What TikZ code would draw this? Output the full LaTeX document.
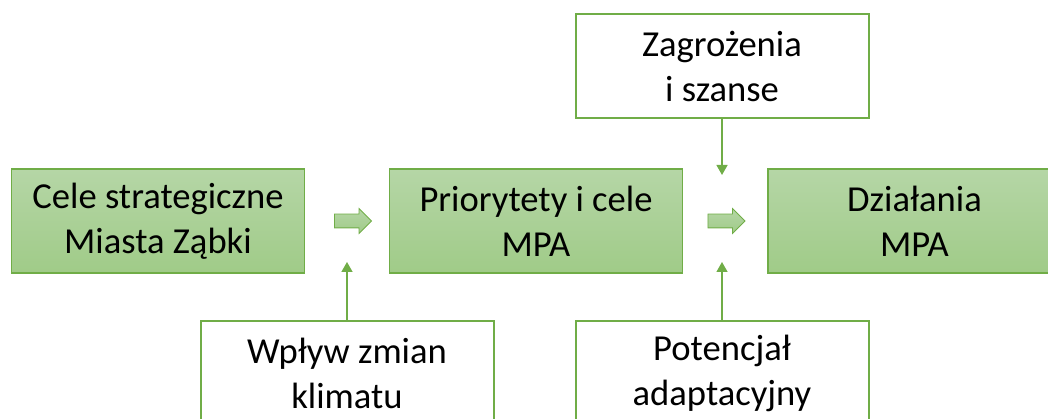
\documentclass[tikz,border=0pt]{standalone}
\usepackage{fontspec}
\setmainfont{Carlito}
\usetikzlibrary{arrows.meta,shapes.arrows}
\definecolor{mpagreen}{HTML}{70AD47}
\definecolor{mpatop}{HTML}{B5D6A6}
\definecolor{mpabot}{HTML}{A0CB88}
\tikzset{
 box/.style={draw=mpagreen,minimum width=293pt,minimum height=104pt,align=center,
  inner sep=0pt,font=\fontsize{36.6}{45}\selectfont},
 greenbox/.style={box,line width=1.2pt,top color=mpatop,bottom color=mpabot},
 whitebox/.style={box,line width=2pt,fill=white},
 feed/.style={draw=mpagreen,line width=1.4pt,-{Triangle[width=11pt,length=10pt]}},
 flow/.style={single arrow,draw=mpagreen,line width=0.8pt,top color=mpatop,bottom color=mpabot,
  minimum height=37pt,inner xsep=0pt,inner ysep=6.5pt,text height=0pt,text depth=0pt,
  single arrow head extend=5.5pt}
}
\begin{document}
\begin{tikzpicture}[x=1pt,y=1pt]
\path[use as bounding box] (0,0) rectangle (1048,419);
\clip (0,0) rectangle (1048,419);
 \node[greenbox] (cele) at (158,198) {Cele strategiczne\\Miasta Ząbki};
 \node[greenbox] (prior) at (536,198) {Priorytety i cele\\MPA};
 \node[greenbox] (dzial) at (914.5,198) {Działania\\MPA};
 \node[whitebox] (zagr) at (722,353) {Zagrożenia\\i szanse};
 \node[whitebox] (wplyw) at (347,46) {Wpływ zmian\\klimatu};
 \node[whitebox] (poten) at (722,46) {Potencjał\\adaptacyjny};
 \node[flow] (go1) at (349.5,198) {};
 \node[flow] (go2) at (723,198) {};
 \coordinate (zin) at (722,244); \coordinate (win) at (347,157);
 \coordinate (pin) at (722,157);
 \foreach \b/\e in {zagr.south/zin,wplyw.north/win,poten.north/pin}
 {\draw[feed] (\b) -- (\e);}
\end{tikzpicture}
\end{document}
